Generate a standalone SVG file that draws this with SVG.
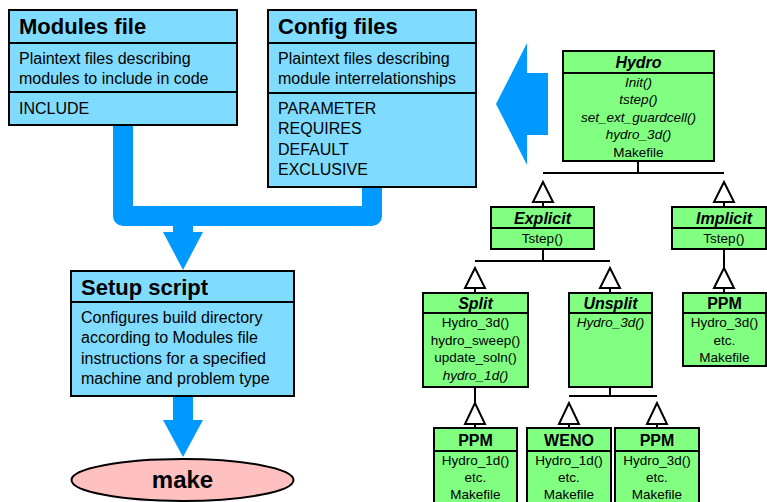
<svg xmlns="http://www.w3.org/2000/svg" width="767" height="502" viewBox="0 0 767 502">
<style>
.bx{fill:#80dcff;stroke:#000;stroke-width:2}
.gb{fill:#80ff80;stroke:#000;stroke-width:2}
.ln{stroke:#000;stroke-width:2;fill:none}
.tri{fill:#fff;stroke:#000;stroke-width:2}
.arr{fill:#0099ff}
.t1{font-family:"Liberation Sans",Arial,sans-serif;font-size:22px;font-weight:bold;fill:#000}
.t2{font-family:"Liberation Sans",Arial,sans-serif;font-size:16px;fill:#000}
.g1{font-family:"Liberation Sans",Arial,sans-serif;font-size:16px;font-weight:bold;fill:#000;text-anchor:middle}
.g2{font-family:"Liberation Sans",Arial,sans-serif;font-size:13.5px;fill:#000;text-anchor:middle}
.it{font-style:italic}
</style>
<rect width="767" height="502" fill="#fff"/>
<g id="connectors">
<path d="M123,125 V216 H372 V187" stroke="#0099ff" stroke-width="20" fill="none" stroke-linejoin="round"/>
<path class="arr" d="M173,216 V232 H163 L183,270 L203,232 H193 V216 Z"/>
<path class="arr" d="M173,396 V420 H163 L183,457 L203,420 H193 V396 Z"/>
<path class="arr" d="M548,73 H527 V43 L496,104 L527,165 V135 H548 Z"/>
<path class="ln" d="M638,161 V173 M543,173 H724 M543,202 V208 M724,202 V208"/>
<polygon class="tri" points="543,182 533,202 553,202"/>
<polygon class="tri" points="724,182 714,202 734,202"/>
<path class="ln" d="M543,249 V261 M475,261 H610 M475,288 V293 M610,288 V293 M724,249 V268 M724,288 V293"/>
<polygon class="tri" points="475,268 465,288 485,288"/>
<polygon class="tri" points="610,268 600,288 620,288"/>
<polygon class="tri" points="724,268 714,288 734,288"/>
<path class="ln" d="M475,387 V403 M475,424 V428 M610,387 V396 M569,396 H657 M569,424 V428 M657,424 V428"/>
<polygon class="tri" points="475,403 465,424 485,424"/>
<polygon class="tri" points="569,403 559,424 579,424"/>
<polygon class="tri" points="657,403 647,424 667,424"/>
</g>
<g id="modules">
<rect class="bx" x="9" y="10" width="228" height="115"/>
<path class="ln" d="M9,43 H237 M9,92 H237"/>
<text class="t1" x="19" y="34">Modules file</text>
<text class="t2" x="19" y="64">Plaintext files describing</text>
<text class="t2" x="19" y="84">modules to include in code</text>
<text class="t2" x="19" y="114">INCLUDE</text>
</g>
<g id="config">
<rect class="bx" x="268" y="10" width="208" height="177"/>
<path class="ln" d="M268,43 H476 M268,93 H476"/>
<text class="t1" x="278" y="34">Config files</text>
<text class="t2" x="278" y="64">Plaintext files describing</text>
<text class="t2" x="278" y="84">module interrelationships</text>
<text class="t2" x="278" y="114">PARAMETER</text>
<text class="t2" x="278" y="134">REQUIRES</text>
<text class="t2" x="278" y="155">DEFAULT</text>
<text class="t2" x="278" y="175">EXCLUSIVE</text>
</g>
<g id="setup">
<rect class="bx" x="71" y="271" width="223" height="125"/>
<path class="ln" d="M71,302 H294"/>
<text class="t1" x="81" y="295">Setup script</text>
<text class="t2" x="81" y="323">Configures build directory</text>
<text class="t2" x="81" y="343">according to Modules file</text>
<text class="t2" x="81" y="364">instructions for a specified</text>
<text class="t2" x="81" y="384">machine and problem type</text>
</g>
<g id="make">
<ellipse cx="182.5" cy="480" rx="111" ry="21" fill="#ffc0c0" stroke="#000" stroke-width="2"/>
<text x="182.5" y="488" font-family="Liberation Sans, Arial, sans-serif" font-size="24" font-weight="bold" text-anchor="middle">make</text>
</g>
<g id="hydro">
<rect class="gb" x="563" y="51" width="151" height="110"/>
<path class="ln" d="M563,73 H714"/>
<text class="g1 it" x="638.5" y="68">Hydro</text>
<text class="g2 it" x="638.5" y="87">Init()</text>
<text class="g2 it" x="638.5" y="104">tstep()</text>
<text class="g2 it" x="638.5" y="122">set_ext_guardcell()</text>
<text class="g2 it" x="638.5" y="139">hydro_3d()</text>
<text class="g2" x="638.5" y="157">Makefile</text>
</g>
<g id="explicit">
<rect class="gb" x="491" y="207" width="103" height="42"/>
<path class="ln" d="M491,228 H594"/>
<text class="g1 it" x="542.5" y="224">Explicit</text>
<text class="g2" x="542.5" y="243">Tstep()</text>
</g>
<g id="implicit">
<rect class="gb" x="672" y="207" width="94" height="42"/>
<path class="ln" d="M672,228 H766"/>
<text class="g1 it" x="724" y="224">Implicit</text>
<text class="g2" x="724" y="243">Tstep()</text>
</g>
<g id="split">
<rect class="gb" x="423" y="293" width="105" height="94"/>
<path class="ln" d="M423,313 H528"/>
<text class="g1 it" x="475.5" y="309">Split</text>
<text class="g2" x="475.5" y="327">Hydro_3d()</text>
<text class="g2" x="475.5" y="345">hydro_sweep()</text>
<text class="g2" x="475.5" y="362">update_soln()</text>
<text class="g2 it" x="475.5" y="380">hydro_1d()</text>
</g>
<g id="unsplit">
<rect class="gb" x="569" y="293" width="83" height="94"/>
<path class="ln" d="M569,313 H652"/>
<text class="g1 it" x="610.5" y="309">Unsplit</text>
<text class="g2 it" x="610.5" y="327">Hydro_3d()</text>
</g>
<g id="ppm-implicit">
<rect class="gb" x="683" y="293" width="83" height="73"/>
<path class="ln" d="M683,313 H766"/>
<text class="g1" x="724.5" y="309">PPM</text>
<text class="g2" x="724.5" y="327">Hydro_3d()</text>
<text class="g2" x="724.5" y="345">etc.</text>
<text class="g2" x="724.5" y="362">Makefile</text>
</g>
<g id="ppm-split">
<rect class="gb" x="434" y="428" width="83" height="80"/>
<path class="ln" d="M434,451 H517"/>
<text class="g1" x="475.5" y="446">PPM</text>
<text class="g2" x="475.5" y="465">Hydro_1d()</text>
<text class="g2" x="475.5" y="482">etc.</text>
<text class="g2" x="475.5" y="499">Makefile</text>
</g>
<g id="weno">
<rect class="gb" x="527" y="428" width="84" height="80"/>
<path class="ln" d="M527,451 H611"/>
<text class="g1" x="569" y="446">WENO</text>
<text class="g2" x="569" y="465">Hydro_1d()</text>
<text class="g2" x="569" y="482">etc.</text>
<text class="g2" x="569" y="499">Makefile</text>
</g>
<g id="ppm-unsplit">
<rect class="gb" x="615" y="428" width="84" height="80"/>
<path class="ln" d="M615,451 H699"/>
<text class="g1" x="657" y="446">PPM</text>
<text class="g2" x="657" y="465">Hydro_3d()</text>
<text class="g2" x="657" y="482">etc.</text>
<text class="g2" x="657" y="499">Makefile</text>
</g>
</svg>
